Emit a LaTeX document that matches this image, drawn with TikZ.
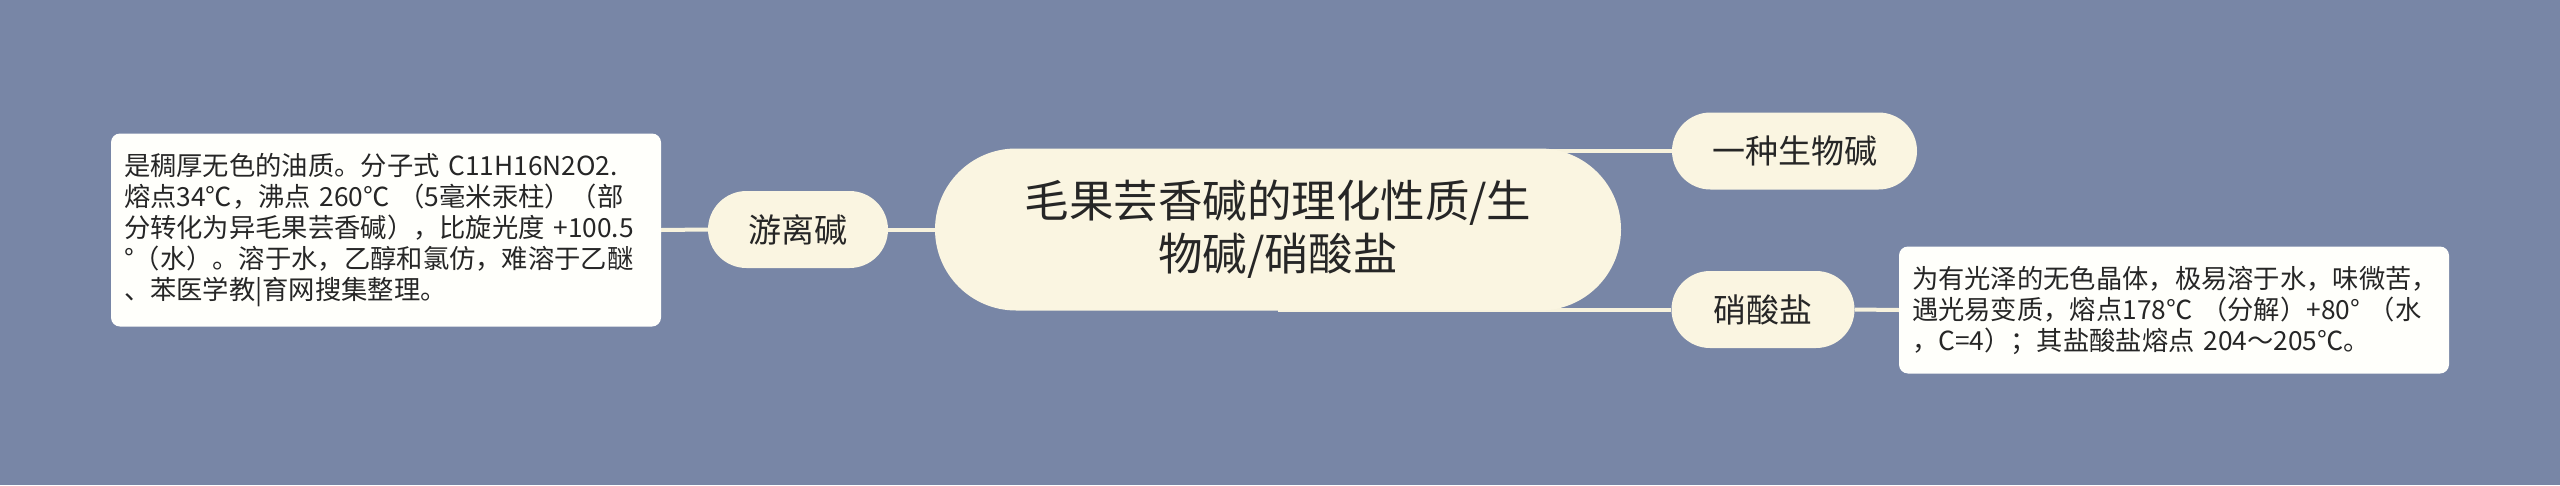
\documentclass[tikz,border=0pt]{standalone}
\usepackage{fontspec}
\setmainfont{Noto Sans CJK SC}
\usetikzlibrary{backgrounds}
\definecolor{bgc}{HTML}{7886A6}
\definecolor{nodefill}{HTML}{FAF5E1}
\definecolor{boxfill}{HTML}{FFFFFB}
\definecolor{linec}{HTML}{F7F2DD}
\definecolor{txt}{HTML}{262626}
\begin{document}
\begin{tikzpicture}[x=1pt,y=-1pt,
  pill/.style={fill=nodefill, text=txt, inner sep=0pt, align=center},
  mainnode/.style={pill, rounded corners=81pt, minimum width=686pt, minimum height=162pt, font=\fontsize{44.5pt}{53pt}\selectfont},
  subnode/.style={pill, rounded corners=38.5pt, minimum height=77pt, font=\fontsize{33pt}{40pt}\selectfont},
  infobox/.style={fill=boxfill, text=txt, rounded corners=9pt, inner xsep=13pt, inner ysep=0pt, text width=524pt, align=left, font=\fontsize{26.3pt}{31pt}\selectfont},
  link/.style={draw=linec, line width=4pt}
]
\useasboundingbox (0,0) rectangle (2560,485);
\node[mainnode] (center) at (1278,229.5) {毛果芸香碱的理化性质/生\\物碱/硝酸盐};
\node[subnode, minimum width=245pt] (bio) at (1794.5,151) {一种生物碱};
\node[subnode, minimum width=183pt] (salt) at (1763,309.5) {硝酸盐};
\node[subnode, minimum width=180pt] (free) at (798,229.5) {游离碱};
\node[infobox, minimum height=193pt] (freebox) at (386,230) {是稠厚无色的油质。分子式~C11H16N2O2.\\熔点34℃，沸点~260℃~（5毫米汞柱）（部\\分转化为异毛果芸香碱），比旋光度~+100.5\\°（水）。溶于水，乙醇和氯仿，难溶于乙醚\\、苯医学教|育网搜集整理。};
\node[infobox, minimum height=127pt] (saltbox) at (2174,310) {为有光泽的无色晶体，极易溶于水，味微苦，\\遇光易变质，熔点178℃~（分解）+80°~（水\\，C=4）；其盐酸盐熔点~204～205℃。};
\begin{scope}[on background layer]
\fill[bgc] (0,0) rectangle (2560,485);
\draw[link] (bio.west) -- (bio.west -| center.center);
\draw[link] (salt.west) -- (salt.west -| center.center);
\draw[link] (free.east) -- (center.center);
\draw[link] (freebox.east) -- (free.west);
\draw[link] (salt.east) -- (saltbox.west);
\end{scope}
\end{tikzpicture}
\end{document}
